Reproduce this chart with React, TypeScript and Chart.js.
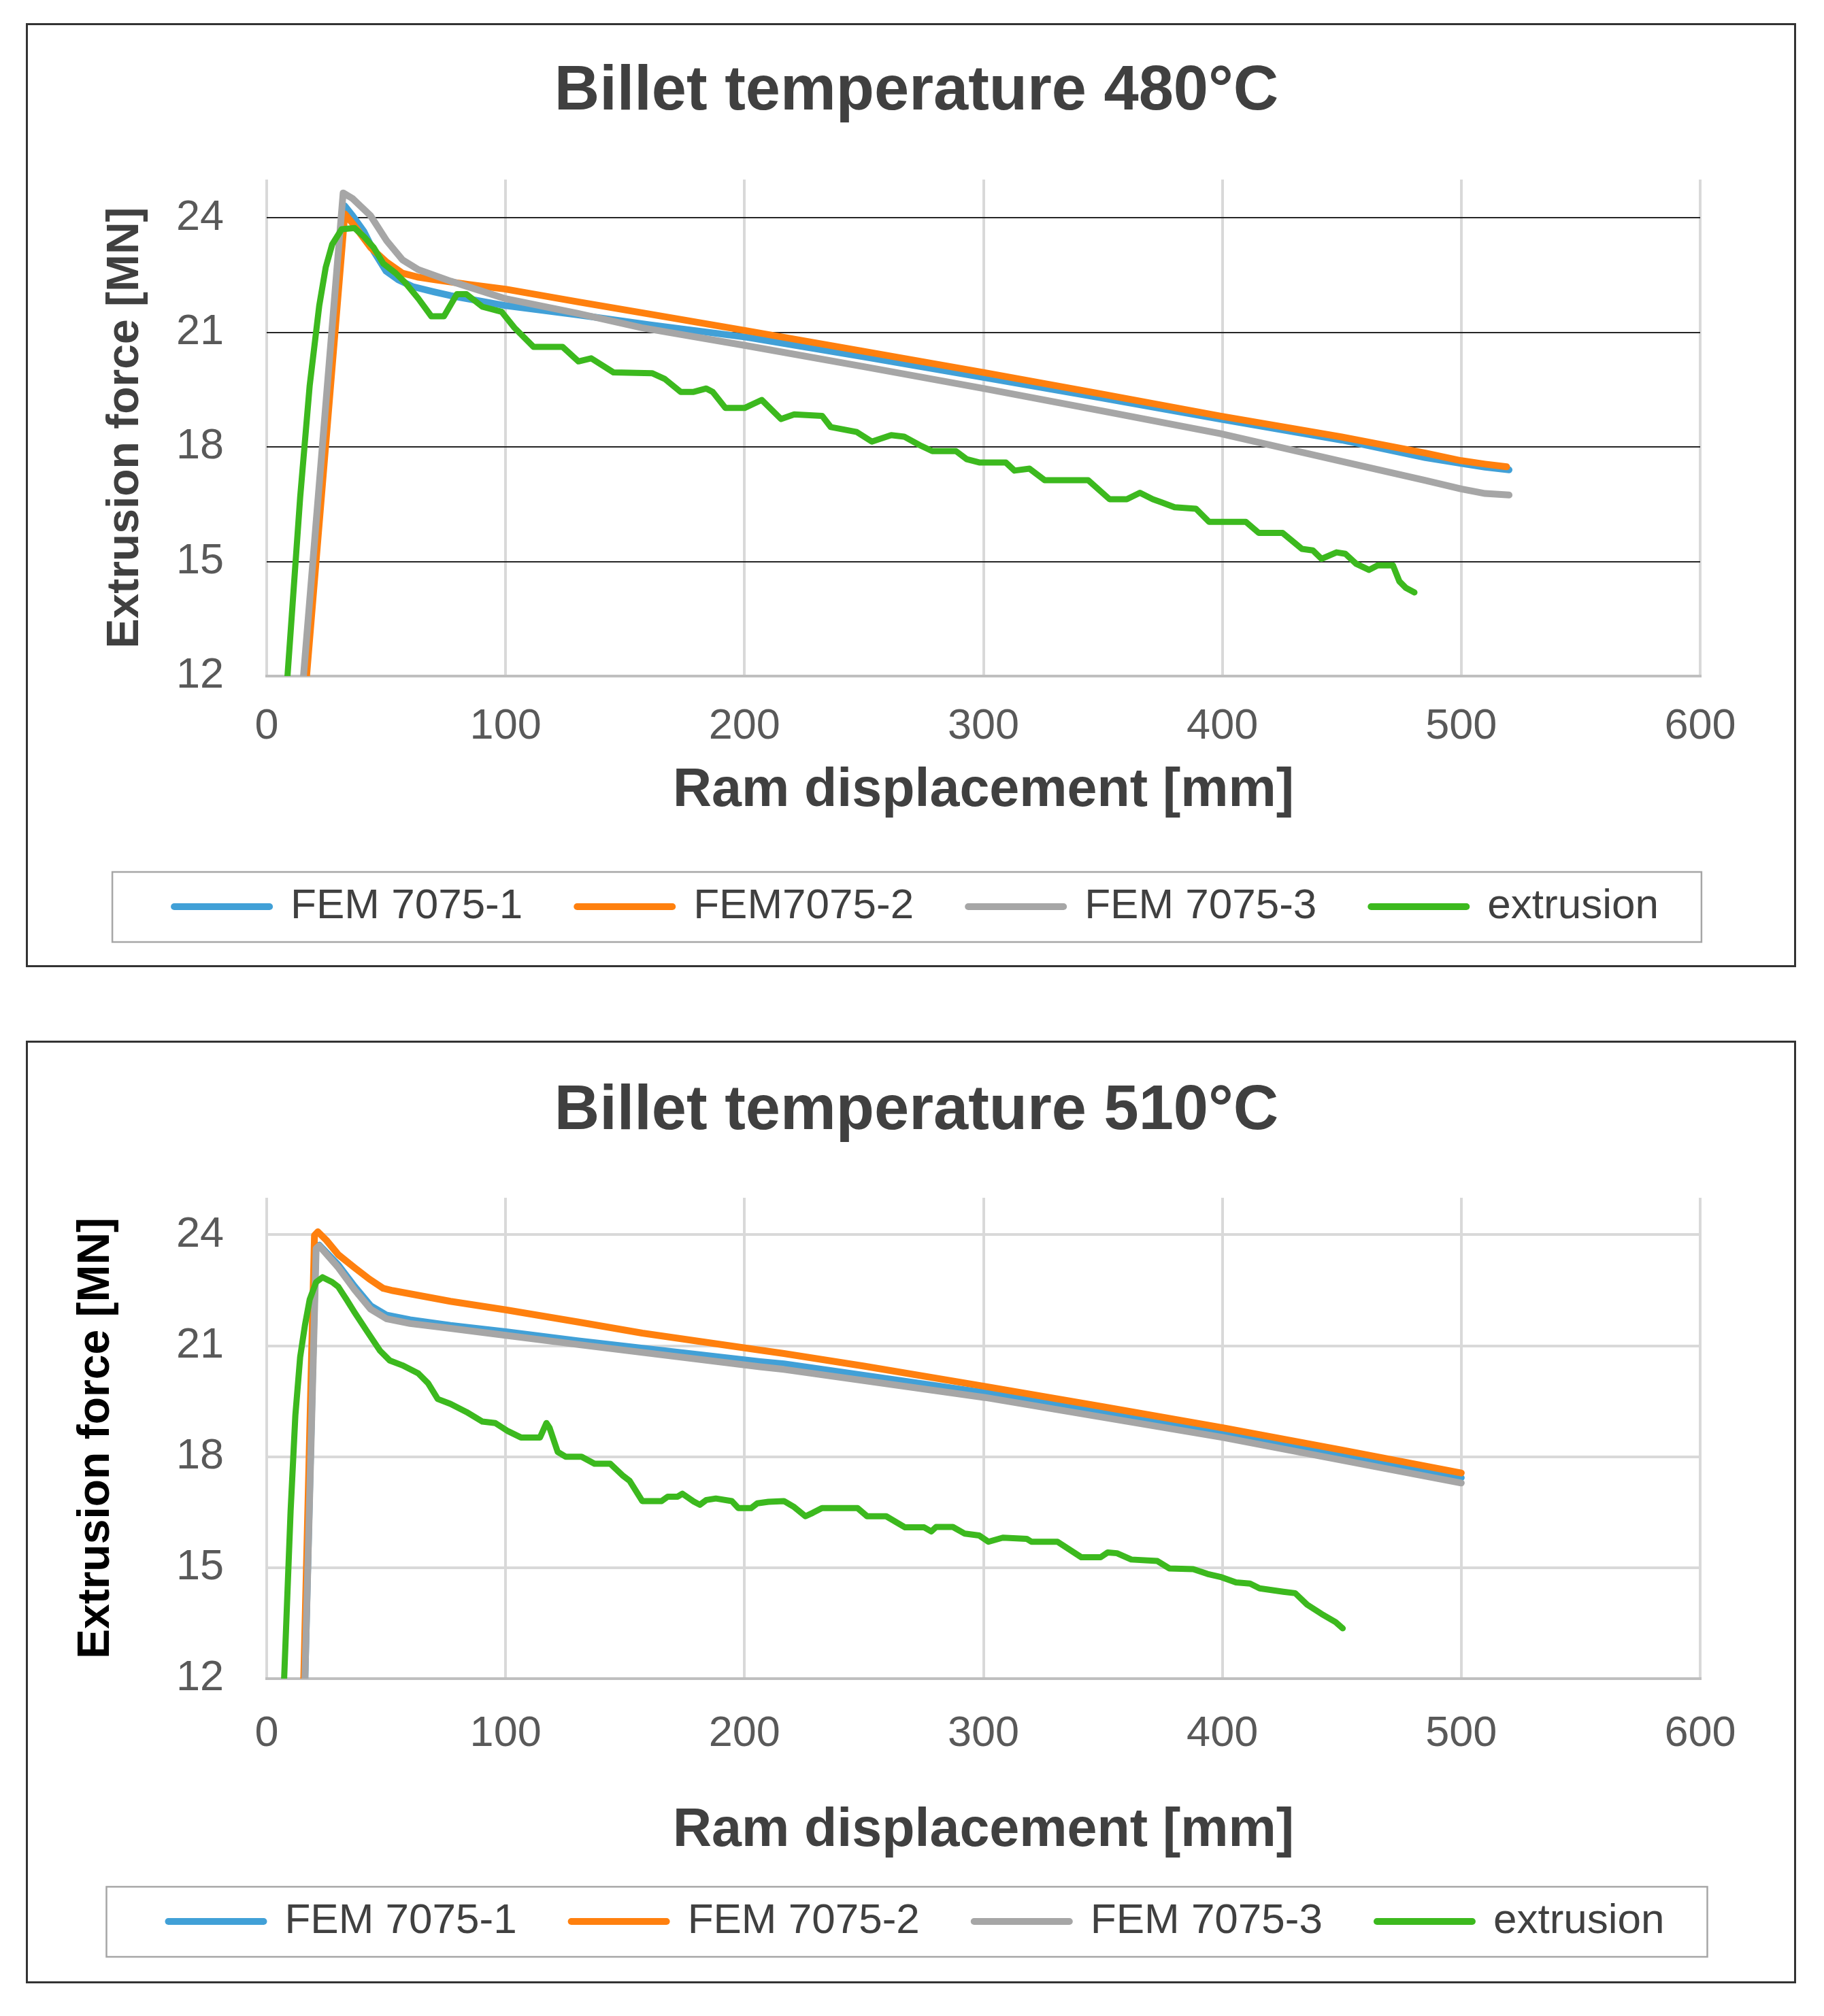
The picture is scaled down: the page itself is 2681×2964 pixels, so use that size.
import React, { useEffect, useRef } from "react";
import { Chart, registerables } from "chart.js";

Chart.register(...registerables);

const FONT = "'Liberation Sans', Arial, Helvetica, sans-serif";
Chart.defaults.font.family = FONT;

// ---------- axis ticks ----------
const xTickValues = [0, 100, 200, 300, 400, 500, 600];
const yTickValues = [12, 15, 18, 21, 24];

// ---------- series names ----------
const namesTop = ["FEM 7075-1", "FEM7075-2", "FEM 7075-3", "extrusion"];
const namesBottom = ["FEM 7075-1", "FEM 7075-2", "FEM 7075-3", "extrusion"];

// ---------- Billet temperature 480°C ----------
const fem1_480_x = [16, 32.7, 36, 40.7, 45, 50, 55, 61, 70, 77, 100, 130, 160, 201, 250, 300, 350, 399, 450, 485, 500, 510, 520];
const fem1_480_y = [12, 24.31, 24.05, 23.64, 23.1, 22.6, 22.38, 22.2, 22.06, 21.96, 21.7, 21.46, 21.2, 20.87, 20.36, 19.82, 19.28, 18.73, 18.18, 17.72, 17.57, 17.47, 17.4];

const fem2_480_x = [16.7, 32.7, 36, 43.5, 50, 56.8, 63, 70, 85, 100, 130, 160, 201, 250, 300, 350, 399, 450, 485, 500, 510, 519];
const fem2_480_y = [12, 24.1, 23.85, 23.22, 22.85, 22.55, 22.45, 22.38, 22.25, 22.13, 21.8, 21.48, 21.04, 20.5, 19.95, 19.38, 18.81, 18.26, 17.84, 17.64, 17.55, 17.48];

const fem3_480_x = [15.4, 32, 36, 43.4, 50.2, 56.8, 63.5, 77, 100, 130, 157, 200, 250, 300, 350, 399, 450, 485, 500, 510, 520];
const fem3_480_y = [12, 24.65, 24.5, 24.06, 23.4, 22.9, 22.64, 22.34, 21.88, 21.5, 21.12, 20.66, 20.1, 19.53, 18.94, 18.35, 17.62, 17.12, 16.9, 16.78, 16.74];

const ext_480_x = [8.7, 14, 18, 22, 24.7, 27.4, 31.4, 36.8, 40.8, 44.8, 48.8, 54, 58, 63.5, 68.9, 74.2, 79.6, 83.6, 90.3, 98.3, 103.7, 111.7, 123.8, 130.5, 135.8, 145.2, 161.3, 166.6, 173.3, 178.7, 184, 186.7, 192, 200, 207.2, 215.3, 220.8, 232.5, 236.1, 247, 253.3, 261.4, 266.8, 273.2, 278.6, 288.5, 293, 298.5, 309.4, 313, 319.3, 325.6, 343.8, 352.8, 360, 365.5, 370.9, 374.5, 380, 389, 394.4, 409.8, 415.2, 425.2, 433.3, 437.9, 441.5, 447.8, 451.5, 456, 461.4, 465, 471.4, 474.1, 476.8, 480.4];
const ext_480_y = [12, 16.67, 19.61, 21.7, 22.7, 23.3, 23.7, 23.73, 23.5, 23.22, 22.8, 22.55, 22.3, 21.88, 21.42, 21.42, 22.0, 22.0, 21.67, 21.54, 21.12, 20.62, 20.62, 20.24, 20.32, 19.95, 19.93, 19.78, 19.44, 19.44, 19.53, 19.44, 19.02, 19.02, 19.23, 18.73, 18.85, 18.81, 18.52, 18.39, 18.14, 18.31, 18.27, 18.05, 17.89, 17.89, 17.68, 17.59, 17.59, 17.38, 17.43, 17.13, 17.13, 16.63, 16.63, 16.8, 16.63, 16.55, 16.42, 16.38, 16.04, 16.04, 15.75, 15.75, 15.33, 15.29, 15.07, 15.24, 15.2, 14.94, 14.78, 14.9, 14.9, 14.48, 14.31, 14.19];

// ---------- Billet temperature 510°C ----------
const fem1_510_x = [16, 20.5, 22, 30, 36.8, 43.5, 50, 60, 76.9, 100, 130.5, 206.5, 216.5, 300.7, 400.2, 500];
const fem1_510_y = [12, 23.6, 23.72, 23.18, 22.6, 22.08, 21.83, 21.7, 21.55, 21.38, 21.13, 20.57, 20.51, 19.73, 18.65, 17.43];

const fem2_510_x = [15.5, 20, 21.4, 25, 30, 36.8, 43, 48.8, 52.8, 76.9, 100, 130.5, 157.2, 206.5, 216.5, 250, 300.7, 350, 400.2, 450, 500];
const fem2_510_y = [12, 23.98, 24.08, 23.85, 23.46, 23.11, 22.8, 22.55, 22.49, 22.2, 21.97, 21.64, 21.34, 20.88, 20.79, 20.45, 19.9, 19.35, 18.78, 18.18, 17.56];

const fem3_510_x = [16, 20.7, 22, 30, 36.8, 43.5, 50.1, 60, 76.9, 100, 130.5, 206.5, 216.5, 300.7, 400.2, 500];
const fem3_510_y = [12, 23.63, 23.7, 23.11, 22.51, 21.99, 21.73, 21.6, 21.47, 21.28, 21.03, 20.43, 20.36, 19.6, 18.52, 17.29];

const ext_510_x = [7.3, 10, 12, 14, 16, 18, 20.7, 23.4, 27.4, 30, 33.4, 36.8, 42.1, 47.5, 51.5, 56.8, 63.5, 67.5, 71.6, 76.9, 83.6, 90.3, 95.7, 101, 106.4, 114.4, 117.1, 118.4, 121.8, 125.1, 131.8, 137.2, 143.8, 149.2, 151.9, 157.2, 165.3, 167.9, 172, 174, 178.7, 181.3, 184, 188, 194.7, 197.4, 202.7, 205.4, 210, 216.5, 220.5, 225.5, 228.5, 232.4, 247.3, 251.3, 259.3, 267.2, 275.2, 278.2, 280.2, 287.2, 292.2, 298.2, 302.1, 308.1, 318.1, 320.1, 331, 341, 349, 352, 355.9, 361.9, 372.8, 377.8, 387.8, 393.8, 399.7, 405.7, 411.6, 415.6, 425.5, 430.5, 435.5, 441.5, 447.4, 450.4];
const ext_510_y = [12, 16.52, 19.12, 20.69, 21.55, 22.25, 22.72, 22.85, 22.72, 22.59, 22.25, 21.9, 21.38, 20.86, 20.6, 20.47, 20.25, 19.99, 19.56, 19.43, 19.21, 18.95, 18.91, 18.69, 18.52, 18.52, 18.91, 18.78, 18.13, 18.0, 18.0, 17.81, 17.81, 17.48, 17.35, 16.8, 16.8, 16.92, 16.92, 17.0, 16.79, 16.7, 16.83, 16.87, 16.8, 16.61, 16.61, 16.74, 16.78, 16.8, 16.65, 16.39, 16.48, 16.61, 16.61, 16.39, 16.39, 16.09, 16.09, 15.98, 16.1, 16.1, 15.92, 15.87, 15.7, 15.81, 15.78, 15.7, 15.7, 15.28, 15.28, 15.41, 15.39, 15.22, 15.18, 14.98, 14.96, 14.83, 14.74, 14.6, 14.57, 14.44, 14.35, 14.31, 14.0, 13.75, 13.53, 13.36];

const COLORS = ["#41A0D7", "#FF800E", "#A6A6A6", "#3CB91E"];

const pts = (xs: number[], ys: number[]) => xs.map((x, i) => ({ x, y: ys[i] }));

type Cfg = {
  left: number;
  top: number;
  w: number;
  h: number;
  title: string;
  names: string[];
  series: [number[], number[]][];
  titleTop: number;
  titleBottom: number;
  xTickPad: number;
  xAxisH: number;
  xTitleBottom: number;
  legendBottom: number;
  yTitleTop: number;
  yTitleColor: string;
  hGridColor: string;
  hGridWidth: number;
};

const legendFrame = {
  id: "legendFrame",
  afterDraw(chart: any) {
    const lg = chart.legend;
    const hb = lg && lg.legendHitBoxes;
    if (!hb || !hb.length) return;
    let minL = Infinity;
    let maxR = -Infinity;
    hb.forEach((b: any) => {
      minL = Math.min(minL, b.left);
      maxR = Math.max(maxR, b.left + b.width);
    });
    const cy = hb[0].top + hb[0].height / 2;
    const ctx = chart.ctx;
    ctx.save();
    ctx.strokeStyle = "#a6a6a6";
    ctx.lineWidth = 2.5;
    const x0 = minL - 91;
    const x1 = maxR + 63;
    ctx.strokeRect(x0, cy - 51, x1 - x0, 103);
    ctx.restore();
  },
};

function ForceChart({ cfg }: { cfg: Cfg }) {
  const ref = useRef<HTMLCanvasElement>(null);
  const cw = cfg.w - 6;
  const ch = cfg.h - 6;

  useEffect(() => {
    if (!ref.current) return;
    const order = [3, 2, 1, 0];
    const datasets = cfg.series.map(([xs, ys], i) => ({
      label: cfg.names[i],
      data: pts(xs, ys),
      borderColor: COLORS[i],
      backgroundColor: COLORS[i],
      borderWidth: i === 3 ? 9 : 10,
      pointRadius: 0,
      pointHoverRadius: 0,
      tension: 0,
      borderJoinStyle: "round" as const,
      borderCapStyle: "round" as const,
      order: order[i],
      yAxisID: "y",
      xAxisID: "x",
    }));

    const defaultGen = (Chart.defaults.plugins.legend.labels as any).generateLabels;

    const chart = new Chart(ref.current, {
      type: "line",
      data: { datasets },
      plugins: [legendFrame],
      options: {
        animation: false,
        responsive: false,
        devicePixelRatio: 1,
        events: [],
        layout: { padding: { left: 16, right: 0, top: 0, bottom: cfg.legendBottom } },
        plugins: {
          title: {
            display: true,
            text: cfg.title,
            color: "#404040",
            font: { family: FONT, size: 92, weight: "bold" },
            padding: { top: cfg.titleTop, bottom: cfg.titleBottom },
          },
          legend: {
            position: "bottom",
            labels: {
              usePointStyle: true,
              pointStyle: "line",
              pointStyleWidth: 140,
              padding: 80,
              color: "#404040",
              font: { family: FONT, size: 62 },
              sort: (a: any, b: any) => a.datasetIndex - b.datasetIndex,
              generateLabels: (c: any) =>
                defaultGen(c).map((l: any) => ({ ...l, lineWidth: 10, lineCap: "round" })),
            },
          },
          tooltip: { enabled: false },
        },
        scales: {
          x: {
            type: "linear",
            position: "bottom",
            min: 0,
            max: 600,
            afterBuildTicks: (s: any) => {
              s.ticks = xTickValues.map((v) => ({ value: v }));
            },
            afterFit: (s: any) => {
              s.height = cfg.xAxisH;
            },
            ticks: {
              color: "#595959",
              font: { family: FONT, size: 63 },
              padding: cfg.xTickPad,
              maxRotation: 0,
              autoSkip: false,
            },
            grid: { color: "#d9d9d9", lineWidth: 4, drawTicks: false },
            border: { display: true, color: "#bfbfbf", width: 4 },
            title: {
              display: true,
              text: "Ram displacement [mm]",
              color: "#404040",
              font: { family: FONT, size: 79, weight: "bold" },
              padding: { top: 0, bottom: cfg.xTitleBottom },
            },
          },
          y: {
            type: "linear",
            position: "left",
            min: 12,
            max: 25,
            afterBuildTicks: (s: any) => {
              s.ticks = yTickValues.map((v) => ({ value: v }));
            },
            afterFit: (s: any) => {
              s.width = 335;
            },
            ticks: {
              color: "#595959",
              font: { family: FONT, size: 63 },
              padding: 63,
              autoSkip: false,
            },
            grid: {
              color: (ctx: any) =>
                ctx.tick && ctx.tick.value === 12 ? "rgba(0,0,0,0)" : cfg.hGridColor,
              lineWidth: cfg.hGridWidth,
              drawTicks: false,
            },
            border: { display: false },
            title: {
              display: true,
              text: "Extrusion force [MN]",
              color: cfg.yTitleColor,
              font: { family: FONT, size: 66, weight: "bold" },
              padding: { top: cfg.yTitleTop, bottom: 0 },
            },
          },
          y2: {
            type: "linear",
            position: "right",
            afterFit: (s: any) => {
              s.width = 138;
            },
            ticks: { display: false },
            grid: { display: false },
            border: { display: false },
          },
        },
      } as any,
    });
    return () => chart.destroy();
  }, []);

  return (
    <div
      style={{
        position: "absolute",
        left: cfg.left,
        top: cfg.top,
        width: cfg.w,
        height: cfg.h,
        border: "3px solid #333",
        boxSizing: "border-box",
        background: "#fff",
      }}
    >
      <canvas ref={ref} width={cw} height={ch} style={{ display: "block", width: cw, height: ch }} />
    </div>
  );
}

const topCfg: Cfg = {
  left: 38,
  top: 34,
  w: 2602,
  h: 1388,
  title: "Billet temperature 480°C",
  names: namesTop,
  series: [
    [fem1_480_x, fem1_480_y],
    [fem2_480_x, fem2_480_y],
    [fem3_480_x, fem3_480_y],
    [ext_480_x, ext_480_y],
  ],
  titleTop: 43.8,
  titleBottom: 72.8,
  xTickPad: 37,
  xAxisH: 228,
  xTitleBottom: 11,
  legendBottom: 45,
  yTitleTop: 88.4,
  yTitleColor: "#404040",
  hGridColor: "#262626",
  hGridWidth: 2,
};

const bottomCfg: Cfg = {
  left: 38,
  top: 1530,
  w: 2602,
  h: 1386,
  title: "Billet temperature 510°C",
  names: namesBottom,
  series: [
    [fem1_510_x, fem1_510_y],
    [fem2_510_x, fem2_510_y],
    [fem3_510_x, fem3_510_y],
    [ext_510_x, ext_510_y],
  ],
  titleTop: 46.8,
  titleBottom: 70.8,
  xTickPad: 44,
  xAxisH: 246,
  xTitleBottom: -25.4,
  legendBottom: 47,
  yTitleTop: 44.9,
  yTitleColor: "#000000",
  hGridColor: "#d9d9d9",
  hGridWidth: 4,
};

export default function App() {
  return (
    <div style={{ position: "absolute", left: 0, top: 0, width: 2681, height: 2964, background: "#fff" }}>
      <ForceChart cfg={topCfg} />
      <ForceChart cfg={bottomCfg} />
    </div>
  );
}
